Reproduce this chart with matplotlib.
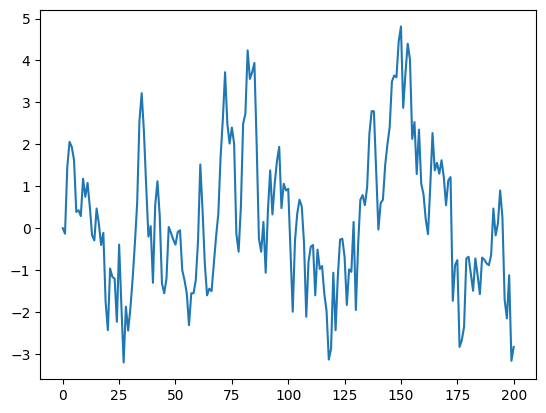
import matplotlib
matplotlib.use("Agg")
import matplotlib.pyplot as plt

values_0_49 = [
    0.0, -0.13, 1.46, 2.06, 1.94, 1.62, 0.39, 0.43, 0.29, 1.18,
    0.75, 1.08, 0.51, -0.17, -0.29, 0.47, 0.11, -0.4, -0.11, -1.75,
    -2.43, -0.96, -1.16, -1.2, -2.23, -0.39, -1.85, -3.2, -1.87, -2.44,
    -1.9, -1.2, -0.35, 0.6, 2.55, 3.22, 2.3, 1.0, -0.2, 0.05,
    -1.3, 0.55, 1.12, 0.3, -1.32, -1.55, -1.2, 0.03, -0.11, -0.27,
]
values_50_99 = [
    -0.39, -0.09, -0.05, -1.0, -1.24, -1.55, -2.31, -1.55, -1.55, -1.24,
    -0.29, 1.52, 0.43, -0.84, -1.6, -1.44, -1.5, -0.85, -0.2, 0.35,
    1.7, 2.6, 3.72, 2.49, 2.02, 2.4, 2.02, -0.13, -0.56, 0.51,
    2.49, 2.73, 4.24, 3.56, 3.72, 3.94, 2.0, -0.25, -0.56, 0.15,
    -1.06, 0.43, 1.38, 0.33, 1.06, 1.6, 1.94, 0.48, 1.06, 0.9,
]
values_100_149 = [
    0.94, -0.55, -1.99, -0.3, 0.35, 0.68, 0.52, -0.35, -2.11, -0.8,
    -0.44, -0.4, -1.6, -0.51, -0.97, -0.9, -1.56, -1.97, -3.13, -2.87,
    -1.06, -2.43, -1.15, -0.27, -0.25, -0.68, -1.83, -0.98, -1.04, 0.15,
    -1.95, -0.4, 0.68, 0.79, 0.55, 0.98, 2.25, 2.79, 2.79, 1.38,
    -0.03, 0.6, 0.68, 1.5, 2.0, 2.41, 3.5, 3.64, 3.6, 4.45,
]
values_150_200 = [
    4.81, 2.87, 3.7, 4.4, 4.02, 2.13, 2.53, 1.29, 2.35, 1.06,
    0.81, 0.21, -0.14, 1.0, 2.27, 1.38, 1.56, 1.3, 1.62, 1.22,
    0.55, 1.14, 1.22, -1.73, -0.88, -0.76, -2.83, -2.67, -2.35, -0.72,
    -0.68, -1.08, -1.49, -0.72, -1.12, -1.57, -0.7, -0.75, -0.84, -0.88,
    -0.64, 0.47, -0.17, 0.11, 0.9, 0.27, -1.71, -2.15, -1.12, -3.16,
    -2.83,
]
values = values_0_49 + values_50_99 + values_100_149 + values_150_200
x = list(range(len(values)))

fig, ax = plt.subplots(figsize=(6.4, 4.8), dpi=100)
ax.plot(x, values, color="#1f77b4", linewidth=1.5)
fig.savefig("out.png", dpi=100, bbox_inches="tight")
